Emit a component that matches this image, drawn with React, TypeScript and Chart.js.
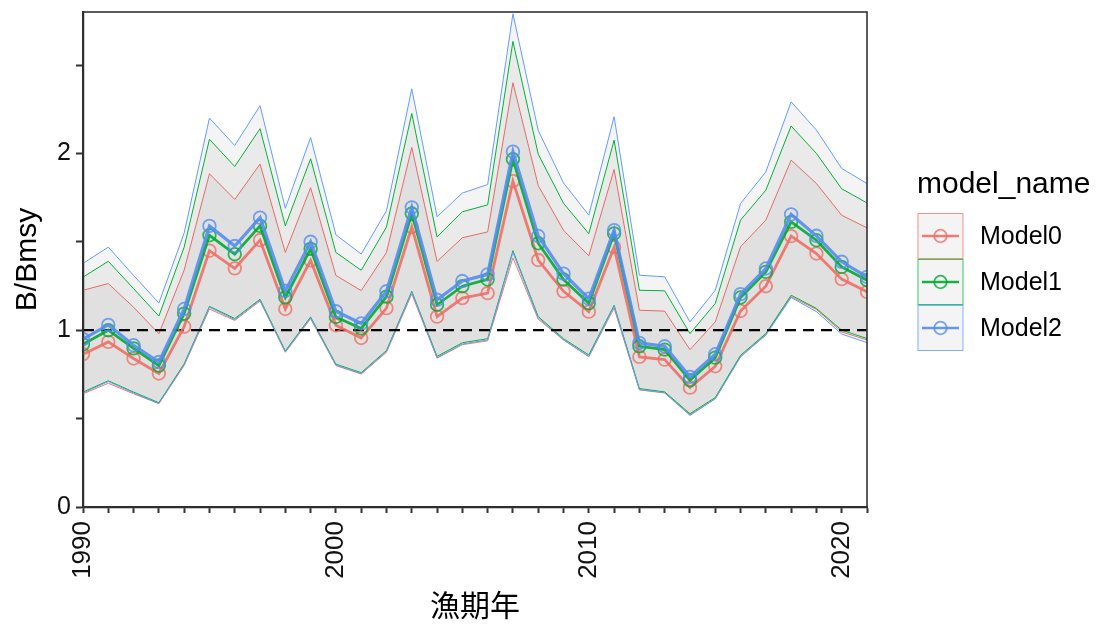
import React, { useEffect, useRef } from "react";
import { Chart, registerables } from "chart.js";

Chart.register(...registerables);

const years = [
  1990, 1991, 1992, 1993, 1994, 1995, 1996, 1997, 1998, 1999, 2000, 2001, 2002, 2003, 2004, 2005,
  2006, 2007, 2008, 2009, 2010, 2011, 2012, 2013, 2014, 2015, 2016, 2017, 2018, 2019, 2020, 2021,
];

const modelNames = ["Model0", "Model1", "Model2"];

const model0Mid = [
  0.864, 0.934, 0.84, 0.755, 1.02, 1.45, 1.35, 1.51, 1.12, 1.395, 1.028, 0.956, 1.125, 1.584, 1.077, 1.182,
  1.21, 1.843, 1.397, 1.22, 1.105, 1.47, 0.849, 0.834, 0.675, 0.796, 1.109, 1.249, 1.532, 1.434, 1.289, 1.217,
];
const model1Mid = [
  0.92, 1.0, 0.897, 0.8, 1.094, 1.537, 1.43, 1.59, 1.185, 1.46, 1.075, 1.01, 1.19, 1.66, 1.144, 1.249,
  1.287, 1.967, 1.492, 1.287, 1.153, 1.547, 0.909, 0.89, 0.717, 0.845, 1.185, 1.33, 1.613, 1.509, 1.358, 1.283,
];
const model2Mid = [
  0.95, 1.03, 0.915, 0.82, 1.12, 1.59, 1.476, 1.637, 1.222, 1.5, 1.107, 1.038, 1.22, 1.695, 1.172, 1.278,
  1.316, 2.01, 1.533, 1.32, 1.178, 1.566, 0.928, 0.909, 0.736, 0.864, 1.204, 1.349, 1.655, 1.534, 1.387, 1.302,
];

const model0Upper = [
  1.226, 1.264, 1.13, 0.98, 1.34, 1.885, 1.74, 1.94, 1.44, 1.806, 1.31, 1.224, 1.44, 2.034, 1.389, 1.523,
  1.556, 2.4, 1.818, 1.565, 1.421, 1.909, 1.113, 1.108, 0.89, 1.047, 1.472, 1.623, 1.962, 1.83, 1.65, 1.579,
];
const model1Upper = [
  1.3, 1.39, 1.235, 1.08, 1.47, 2.08, 1.926, 2.14, 1.59, 1.97, 1.44, 1.339, 1.584, 2.226, 1.527, 1.67,
  1.709, 2.634, 1.996, 1.718, 1.546, 2.075, 1.226, 1.223, 0.981, 1.151, 1.623, 1.792, 2.155, 2.0, 1.8, 1.72,
];
const model2Upper = [
  1.378, 1.47, 1.31, 1.154, 1.55, 2.2, 2.045, 2.27, 1.69, 2.09, 1.54, 1.431, 1.676, 2.366, 1.642, 1.776,
  1.824, 2.79, 2.13, 1.833, 1.651, 2.208, 1.311, 1.302, 1.047, 1.226, 1.717, 1.896, 2.292, 2.132, 1.915, 1.83,
];

const model0Lower = [
  0.64, 0.7, 0.64, 0.585, 0.8, 1.12, 1.055, 1.165, 0.875, 1.065, 0.8, 0.752, 0.875, 1.205, 0.842, 0.918,
  0.94, 1.41, 1.062, 0.945, 0.85, 1.125, 0.662, 0.645, 0.522, 0.612, 0.85, 0.975, 1.19, 1.118, 0.99, 0.945,
];
const model1Lower = [
  0.65, 0.714, 0.65, 0.59, 0.81, 1.135, 1.066, 1.175, 0.883, 1.075, 0.808, 0.76, 0.885, 1.22, 0.852, 0.929,
  0.952, 1.45, 1.077, 0.952, 0.86, 1.141, 0.67, 0.651, 0.528, 0.619, 0.858, 0.981, 1.198, 1.123, 1.0, 0.953,
];
const model2Lower = [
  0.645, 0.71, 0.645, 0.585, 0.805, 1.13, 1.06, 1.17, 0.878, 1.07, 0.803, 0.755, 0.88, 1.215, 0.845, 0.922,
  0.945, 1.44, 1.07, 0.945, 0.852, 1.135, 0.665, 0.646, 0.518, 0.612, 0.85, 0.972, 1.185, 1.105, 0.978, 0.93,
];

const referenceLevel = 1;
const xTickLabels = ["1990", "2000", "2010", "2020"];
const yTickLabels = ["0", "1", "2"];

const colors = ["rgba(248,118,109,1)", "rgba(0,186,56,1)", "rgba(97,156,255,1)"];
const lineColors = ["rgba(240,110,100,0.9)", "rgba(0,170,50,0.9)", "rgba(85,140,240,0.9)"];
const pointColors = ["rgba(240,110,100,0.8)", "rgba(0,170,50,0.8)", "rgba(85,140,240,0.8)"];
const ribbonFill = "rgba(0,0,0,0.042)";

const FONT = '"Liberation Sans", Arial, sans-serif';

const toPts = (vals: number[]) => vals.map((v, i) => ({ x: years[i], y: v }));

export default function App() {
  const ref = useRef<HTMLCanvasElement>(null);

  useEffect(() => {
    const canvas = ref.current!;
    const mids = [model0Mid, model1Mid, model2Mid];
    const uppers = [model0Upper, model1Upper, model2Upper];
    const lowers = [model0Lower, model1Lower, model2Lower];

    const datasets: any[] = [];
    for (let m = 0; m < 3; m++) {
      datasets.push({
        label: modelNames[m] + " upper",
        data: toPts(uppers[m]),
        borderColor: colors[m],
        borderWidth: 1,
        pointRadius: 0,
        fill: "+1",
        backgroundColor: ribbonFill,
        order: 100 - m * 2,
        tension: 0,
      });
      datasets.push({
        label: modelNames[m] + " lower",
        data: toPts(lowers[m]),
        borderColor: colors[m],
        borderWidth: 1,
        pointRadius: 0,
        fill: false,
        order: 99 - m * 2,
        tension: 0,
      });
    }
    datasets.push({
      label: "ref",
      data: [
        { x: years[0], y: referenceLevel },
        { x: years[years.length - 1], y: referenceLevel },
      ],
      borderColor: "#000",
      borderWidth: 2.2,
      borderDash: [11, 7],
      pointRadius: 0,
      fill: false,
      order: 50,
    });
    for (let m = 0; m < 3; m++) {
      datasets.push({
        label: modelNames[m],
        data: toPts(mids[m]),
        borderColor: lineColors[m],
        borderWidth: m === 2 ? 3.2 : 2.8,
        pointRadius: 6.3,
        pointBorderWidth: 1.8,
        pointBackgroundColor: "rgba(0,0,0,0)",
        pointBorderColor: pointColors[m],
        pointStyle: "circle",
        fill: false,
        order: 30 - m * 10,
        tension: 0,
      });
    }

    const decor = {
      id: "decor",
      afterDatasetsDraw(chart: any) {
        const ctx = chart.ctx as CanvasRenderingContext2D;
        const { left, top, right, bottom } = chart.chartArea;
        ctx.save();
        ctx.strokeStyle = "#333";
        ctx.lineWidth = 1.6;
        ctx.strokeRect(left, top, right - left, bottom - top);
        ctx.restore();
      },
      afterDraw(chart: any) {
        const ctx = chart.ctx as CanvasRenderingContext2D;
        const { left, top, right, bottom } = chart.chartArea;
        ctx.save();
        ctx.fillStyle = "#000";
        ctx.font = `30px ${FONT}`;
        ctx.textAlign = "center";
        ctx.textBaseline = "middle";
        ctx.translate(28, (top + bottom) / 2);
        ctx.rotate(-Math.PI / 2);
        ctx.fillText("B/Bmsy", 0, 0);
        ctx.setTransform(1, 0, 0, 1, 0, 0);
        ctx.font = `30px "Noto Sans CJK JP", sans-serif`;
        ctx.textAlign = "center";
        ctx.textBaseline = "middle";
        ctx.fillText("漁期年", (left + right) / 2, 605);

        ctx.font = `30px ${FONT}`;
        ctx.textAlign = "left";
        ctx.textBaseline = "alphabetic";
        ctx.fillText("model_name", 917, 193);
        const boxX = 918;
        const boxS = 45;
        for (let m = 0; m < 3; m++) {
          const by = 213.5 + m * 46;
          ctx.fillStyle = "#fff";
          ctx.fillRect(boxX, by, boxS, boxS);
          ctx.fillStyle = ribbonFill;
          ctx.fillRect(boxX, by, boxS, boxS);
          ctx.strokeStyle = colors[m];
          ctx.lineWidth = 1;
          ctx.globalAlpha = 0.8;
          ctx.strokeRect(boxX, by, boxS, boxS);
          ctx.globalAlpha = 1;
          const cy = by + boxS / 2;
          ctx.strokeStyle = lineColors[m];
          ctx.lineWidth = 2.6;
          ctx.beginPath();
          ctx.moveTo(boxX + 4, cy);
          ctx.lineTo(boxX + boxS - 4, cy);
          ctx.stroke();
          ctx.strokeStyle = pointColors[m];
          ctx.lineWidth = 1.8;
          ctx.beginPath();
          ctx.arc(boxX + boxS / 2, cy, 6.3, 0, Math.PI * 2);
          ctx.stroke();
          ctx.fillStyle = "#000";
          ctx.font = `25px ${FONT}`;
          ctx.textBaseline = "middle";
          ctx.fillText(modelNames[m], 980, cy + 1);
        }
        ctx.restore();
      },
    };

    const chart = new Chart(canvas, {
      type: "line",
      data: { datasets },
      options: {
        animation: false,
        responsive: false,
        maintainAspectRatio: false,
        devicePixelRatio: 1,
        layout: { padding: { left: 0, top: 12, right: 240, bottom: 0 } },
        plugins: {
          legend: { display: false },
          tooltip: { enabled: false },
          filler: { propagate: false },
        },
        scales: {
          x: {
            type: "linear",
            position: "bottom",
            min: years[0],
            max: years[years.length - 1],
            afterFit: (s: any) => {
              s.height = 117;
              s.paddingLeft = 0;
              s.paddingRight = 0;
            },
            ticks: {
              stepSize: 1,
              autoSkip: false,
              maxRotation: 90,
              minRotation: 90,
              padding: 8,
              color: "#111",
              font: { family: FONT, size: 26 },
              callback: (v: any) => (xTickLabels.includes(String(v)) ? String(v) : ""),
            },
            grid: {
              display: true,
              drawOnChartArea: false,
              drawTicks: true,
              tickLength: 6,
              tickColor: "#333",
              tickWidth: 2,
            },
            border: { display: true, color: "#222", width: 2.2 },
          },
          y: {
            type: "linear",
            min: 0,
            max: 2.8,
            afterFit: (s: any) => {
              s.width = 83;
              s.paddingTop = 0;
              s.paddingBottom = 0;
            },
            ticks: {
              stepSize: 0.5,
              includeBounds: false,
              padding: 5,
              color: "#111",
              font: { family: FONT, size: 25 },
              callback: (v: any) => (yTickLabels.includes(String(v)) ? String(v) : ""),
            },
            grid: {
              display: true,
              drawOnChartArea: false,
              drawTicks: true,
              tickLength: 7,
              tickColor: "#333",
              tickWidth: 2,
            },
            border: { display: true, color: "#222", width: 2.2 },
          },
        },
      } as any,
      plugins: [decor],
    });
    return () => chart.destroy();
  }, []);

  return (
    <div style={{ position: "absolute", left: 0, top: 0, width: 1107, height: 624, background: "#fff" }}>
      <canvas ref={ref} width={1107} height={624} style={{ display: "block", width: 1107, height: 624 }} />
    </div>
  );
}
